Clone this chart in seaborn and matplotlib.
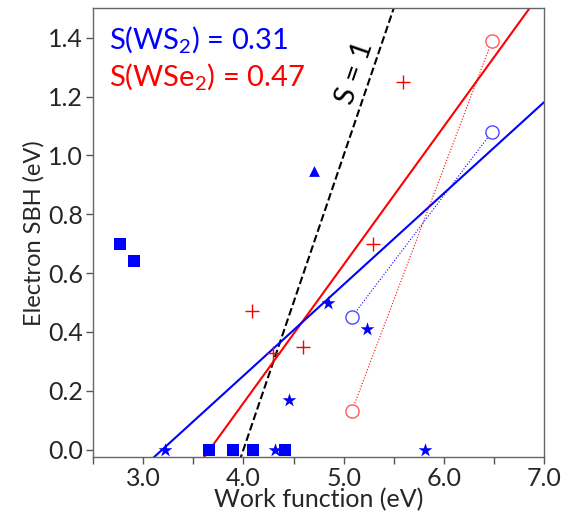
import numpy as np
import pandas as pd
import seaborn as sns
import matplotlib
matplotlib.use("Agg")
import matplotlib.pyplot as plt
from matplotlib.ticker import MultipleLocator

# data (work function eV, electron SBH eV)
ws2_square_x = [2.77, 2.91, 3.66, 3.90, 4.10, 4.42]
ws2_square_y = [0.70, 0.64, 0.0, 0.0, 0.0, 0.0]
ws2_star_x = [3.22, 4.32, 4.46, 4.84, 5.23, 5.81]
ws2_star_y = [0.0, 0.0, 0.17, 0.50, 0.41, 0.0]
ws2_tri_x = [4.70]
ws2_tri_y = [0.946]
wse2_plus_x = [4.09, 4.30, 4.59, 5.29, 5.59]
wse2_plus_y = [0.47, 0.33, 0.35, 0.70, 1.25]
ws2_circ_x = [5.08, 6.48]
ws2_circ_y = [0.45, 1.08]
wse2_circ_x = [5.08, 6.48]
wse2_circ_y = [0.13, 1.39]

# fitted lines: slope and x-intercept
fit_slope = {"WS2": 0.31, "WSe2": 0.47, "S1": 1.0}
fit_x0 = {"WS2": 3.19, "WSe2": 3.663, "S1": 4.0}

sns.set_style("ticks")
plt.rcParams['font.family'] = ['Lato', 'DejaVu Sans']
plt.rcParams['mathtext.fontset'] = 'custom'
plt.rcParams['mathtext.rm'] = 'Lato'

fig = plt.figure(figsize=(5.74, 5.13), dpi=100)
ax = fig.add_axes([0.162, 0.109, 0.786, 0.875])

xs = np.array([2.5, 7.0])
for key, col, ls in [("S1", "black", "--"), ("WSe2", "red", "-"), ("WS2", "blue", "-")]:
    line_df = pd.DataFrame({"x": xs, "y": fit_slope[key] * (xs - fit_x0[key])})
    sns.lineplot(data=line_df, x="x", y="y", color=col, linestyle=ls, lw=1.5, ax=ax)

# dotted connectors between open circles
sns.lineplot(x=ws2_circ_x, y=ws2_circ_y, color="blue", linestyle=":", lw=0.8, ax=ax)
sns.lineplot(x=wse2_circ_x, y=wse2_circ_y, color="red", linestyle=":", lw=0.8, ax=ax)

sns.scatterplot(x=ws2_square_x, y=ws2_square_y, marker="s", color="blue", s=75,
                linewidth=0, ax=ax, zorder=3)
sns.scatterplot(x=ws2_star_x, y=ws2_star_y, marker="*", color="blue", s=110,
                linewidth=0, ax=ax, zorder=3)
sns.scatterplot(x=ws2_tri_x, y=ws2_tri_y, marker="^", color="blue", s=60,
                linewidth=0, ax=ax, zorder=3)
sns.scatterplot(x=wse2_plus_x, y=wse2_plus_y, marker="+", color="red", s=100,
                linewidth=1.0, ax=ax, zorder=3)
ax.scatter(ws2_circ_x, ws2_circ_y, marker="o", s=90, facecolors="white",
           edgecolors="#4a4aff", linewidths=1.0, zorder=3)
ax.scatter(wse2_circ_x, wse2_circ_y, marker="o", s=90, facecolors="white",
           edgecolors="#ff5a5a", linewidths=1.0, zorder=3)

ax.set_xlim(2.5, 7.0)
ax.set_ylim(-0.025, 1.5)
ax.xaxis.set_major_locator(MultipleLocator(1.0))
ax.xaxis.set_minor_locator(MultipleLocator(0.5))
ax.yaxis.set_major_locator(MultipleLocator(0.2))
ax.xaxis.set_major_formatter(matplotlib.ticker.FormatStrFormatter('%.1f'))
ax.yaxis.set_major_formatter(matplotlib.ticker.FormatStrFormatter('%.1f'))
ax.tick_params(axis='both', which='both', direction='out', length=5, width=1,
               color='#555555', labelsize=18, pad=2)

for sp in ax.spines.values():
    sp.set_visible(True)
    sp.set_color('#666666')
    sp.set_linewidth(1.0)

ax.set_xlabel("Work function (eV)", fontsize=18, labelpad=-1)
ax.set_ylabel("Electron SBH (eV)", fontsize=17, labelpad=3)

ax.text(2.66, 1.39, "S(WS$_2$) = 0.31", color="blue", fontsize=21, va="center")
ax.text(2.66, 1.265, "S(WSe$_2$) = 0.47", color="red", fontsize=21, va="center")
ax.text(5.11, 1.28, "S = 1", color="black", fontsize=21, rotation=71,
        ha="center", va="center")

fig.savefig("out.png", dpi=100)
